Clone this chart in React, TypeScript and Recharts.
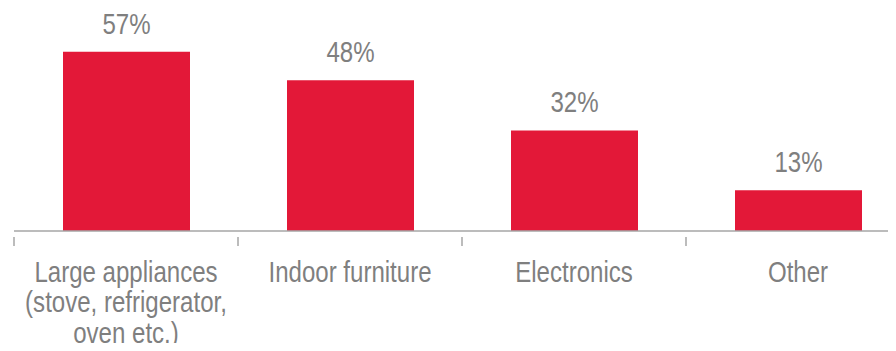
import { BarChart, Bar, XAxis, YAxis, LabelList } from 'recharts'

const categories = ['Large appliances\n(stove, refrigerator,\noven etc.)', 'Indoor furniture', 'Electronics', 'Other']
const shares = [57, 48, 32, 13]

const data = categories.map((name, i) => ({ name, value: shares[i] }))

const CHART_W = 910
const CHART_H = 351
const MARGIN = { top: 11, right: 0, left: 14, bottom: 0 }
const BAND = (CHART_W - MARGIN.left - MARGIN.right) / categories.length
const GREY = '#7f7f7f'
const FONT = '"Liberation Sans", Arial, sans-serif'
// no narrow face installed, so squeeze the regular one
const SQUEEZE = 0.83

function CategoryTick(props: any) {
  const { x, y, payload } = props
  const lines = String(payload.value).split('\n')
  const edge = x - BAND / 2
  return (
    <g>
      <line x1={edge} y1={y} x2={edge} y2={y + 9} stroke="#a6a6a6" strokeWidth={1.5} />
      <g transform={`translate(${x},${y + 45}) scale(${SQUEEZE},1)`}>
        <text x={0} y={0} textAnchor="middle" fill={GREY} fontSize={29} fontFamily={FONT}>
          {lines.map((l, i) => (
            <tspan key={i} x={0} dy={i === 0 ? 0 : 30.5}>
              {l}
            </tspan>
          ))}
        </text>
      </g>
    </g>
  )
}

function ValueLabel(props: any) {
  const { x, y, width, value } = props
  return (
    <g transform={`translate(${x + width / 2},${y - 18}) scale(${SQUEEZE},1)`}>
      <text x={0} y={0} textAnchor="middle" fill={GREY} fontSize={29} fontFamily={FONT}>
        {`${value}%`}
      </text>
    </g>
  )
}

export default function App() {
  return (
    <div style={{ margin: -8, width: 896, height: 351, overflow: 'hidden', background: '#fff' }}>
      <BarChart width={CHART_W} height={CHART_H} data={data} margin={MARGIN}>
        <XAxis
          dataKey="name"
          height={120}
          interval={0}
          tickLine={false}
          axisLine={{ stroke: '#a6a6a6', strokeWidth: 1.5 }}
          tick={<CategoryTick />}
          tickMargin={0}
        />
        <YAxis hide domain={[0, 70]} />
        <Bar dataKey="value" fill="#e31838" barSize={127} isAnimationActive={false}>
          <LabelList dataKey="value" content={<ValueLabel />} />
        </Bar>
      </BarChart>
    </div>
  )
}
